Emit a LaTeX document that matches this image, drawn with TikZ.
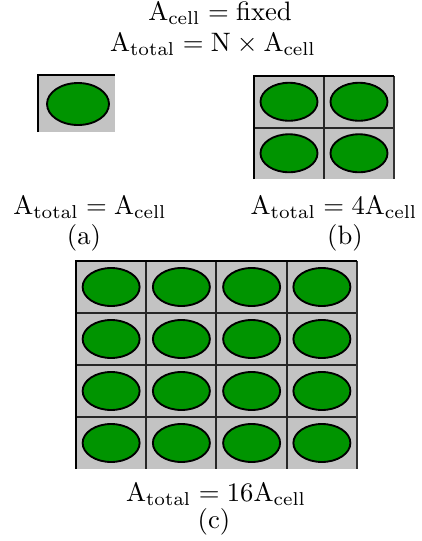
\documentclass[tikz,border=0pt]{standalone}
\usepackage{amsmath}
\definecolor{cellgray}{RGB}{195,195,195}
\definecolor{blobgreen}{RGB}{0,148,0}
\begin{document}
\begin{tikzpicture}[x=0.375pt,y=-0.375pt,
  blob/.style={fill=blobgreen,draw=black,line width=0.7pt},
  outerline/.style={draw=black,line width=0.9pt},
  innerline/.style={draw=black!85,line width=0.75pt},
  rightline/.style={draw=black!80,line width=0.5pt},
  lbl/.style={anchor=base,inner sep=0pt}]
\useasboundingbox (0,0) rectangle (422,541);
% header
\node[lbl] (h1) at (220,20) {$\mathrm{A_{cell}}=\text{fixed}$};
\node[lbl] (h2) at (213,51) {$\mathrm{A_{total}}=\mathrm{N}\times\mathrm{A_{cell}}$};
% (a)
\fill[cellgray] (38,75) rectangle (115,132);
\draw[blob] (78,104) ellipse [x radius=31, y radius=21];
\draw[outerline] (38,132) -- (38,75) -- (115,75);
\node[lbl] (la) at (90,214) {$\mathrm{A_{total}}=\mathrm{A_{cell}}$};
\node[lbl] (ca) at (84,244) {(a)};
% (b)
\fill[cellgray] (254,76) rectangle (394,179);
\foreach \i in {0,1} \foreach \j in {0,1}
  \draw[blob] ({254+70*(\i+0.5)},{76+51.5*(\j+0.5)}) ellipse [x radius=28.5, y radius=19];
\draw[innerline] (324,76) -- (324,179);
\draw[innerline] (254,127.5) -- (394,127.5);
\draw[rightline] (394,76) -- (394,179);
\draw[outerline] (254,179) -- (254,76) -- (394,76);
\node[lbl] (lb) at (334,214) {$\mathrm{A_{total}}=4\mathrm{A_{cell}}$};
\node[lbl] (cb) at (345,244) {(b)};
% (c)
\fill[cellgray] (76,261) rectangle (357,469);
\foreach \i in {0,...,3} \foreach \j in {0,...,3}
  \draw[blob] ({76+70.25*(\i+0.5)},{261+52*(\j+0.5)}) ellipse [x radius=28.5, y radius=19];
\foreach \k in {1,2,3} {
  \draw[innerline] ({76+70.25*\k},261) -- ({76+70.25*\k},469);
  \draw[innerline] (76,{261+52*\k}) -- (357,{261+52*\k});
}
\draw[rightline] (357,261) -- (357,469);
\draw[outerline] (76,469) -- (76,261) -- (357,261);
\node[lbl] (lc) at (216,501) {$\mathrm{A_{total}}=16\mathrm{A_{cell}}$};
\node[lbl] (cc) at (214,528) {(c)};
\end{tikzpicture}
\end{document}
